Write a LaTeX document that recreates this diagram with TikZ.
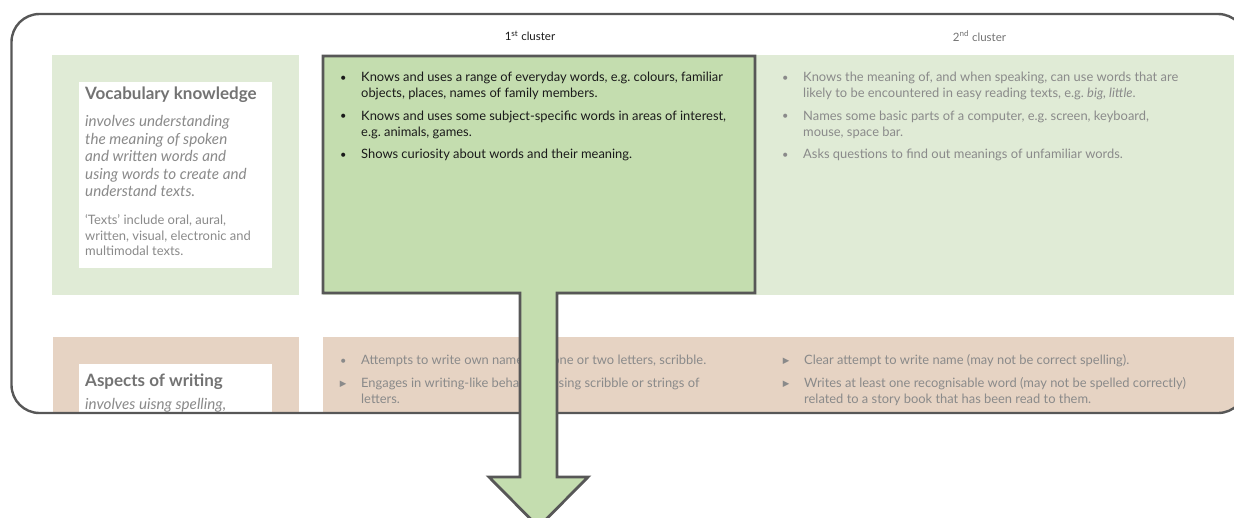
\documentclass[tikz,border=0pt]{standalone}
\usepackage{fontspec}
\setmainfont{Lato}
\newfontfamily\symfont{DejaVu Sans}

\definecolor{framegray}{HTML}{575757}
\definecolor{lgreen}{HTML}{E0EBD6}
\definecolor{dgreen}{HTML}{C4DDAF}
\definecolor{pinkbg}{HTML}{E6D3C3}
\definecolor{txtgray}{HTML}{8A8A8A}
\definecolor{titlegray}{HTML}{737373}
\definecolor{darktxt}{HTML}{1A1A1A}

% a block of text whose reference point is the baseline of its first line;
% \\ stays a plain line break so hanging indents carry over
\newcommand\textblock[1]{\vtop{\hsize=470pt\rightskip=0pt plus 1fil\relax
  \frenchspacing\parindent=0pt\parskip=6.5pt\relax #1\par}}
% one list entry: marker hanging left of the text, later lines aligned with the text
\newcommand\bitem[2]{\par\noindent\hangindent=18pt\hangafter=1
  \makebox[18pt][l]{\makebox[0pt][c]{#1}}#2}
\newcommand\dotmark{\raisebox{0.5pt}{\fontsize{11}{11}\selectfont •}}
\newcommand\trimark{\raisebox{0.8pt}{\symfont\fontsize{8.5}{8.5}\selectfont ▶}}

\tikzset{
  framestyle/.style={draw=framegray, line width=2.4pt, rounded corners=28pt},
  arrowbox/.style={draw=framegray, fill=dgreen, line width=2.8pt, line join=miter},
  head/.style={inner sep=0pt, font=\fontsize{11.5}{13}\selectfont},
  listtext/.style={anchor=base west, inner sep=0pt,
    font=\fontsize{12.9}{16}\selectfont},
  ttl/.style={anchor=base west, inner sep=0pt, text=titlegray,
    font=\fontsize{17}{20}\selectfont\bfseries},
  ittext/.style={anchor=base west, inner sep=0pt, text=txtgray,
    font=\fontsize{15.2}{17.5}\selectfont\itshape},
  notetext/.style={anchor=base west, inner sep=0pt, text=txtgray,
    font=\fontsize{12.95}{15.7}\selectfont}
}

\begin{document}
\begin{tikzpicture}[x=1pt,y=-1pt]
\useasboundingbox (0,0) rectangle (1234,517);
\clip (0,0) rectangle (1234,517);

% first row: light green bands and the white label card
\fill[lgreen] (52,55) rectangle (299,295);
\fill[lgreen] (323,55) rectangle (1240,295);
\fill[white] (79,82) rectangle (272,268);

% second row: pink bands, cut off by the rounded frame
\begin{scope}
  \clip[rounded corners=28pt] (11.5,14) rectangle (1246,413);
  \fill[pinkbg] (53,337) rectangle (299,420);
  \fill[pinkbg] (323,337) rectangle (1240,420);
  \fill[white] (79,364) rectangle (272,420);
  \node[ttl] (awt) at (85,386) {Aspects of writing};
  \node[ittext] (awd) at (85,409.5) {involves uisng spelling,};
\end{scope}

% outer rounded frame
\draw[framestyle] (11.5,14) rectangle (1246,413);

% column headings
\node[head, text=darktxt] (c1) at (530,36) {1\textsuperscript{st} cluster};
\node[head, text=titlegray] (c2) at (979.5,36) {2\textsuperscript{nd} cluster};

% label card of the first row
\node[ttl] (vkt) at (85,99) {Vocabulary knowledge};
\node[ittext] (vkd) at (85,126.5) {\textblock{involves understanding\\the meaning of spoken\\and written words and\\using words to create and\\understand texts.}};
\node[notetext] (vkn) at (85,224.5) {\textblock{‘Texts’ include oral, aural,\\written, visual, electronic and\\multimodal texts.}};

% second row, first cluster (partly covered by the arrow)
\node[listtext, text=txtgray] (w1) at (343,364.5) {\textblock{%
  \bitem{\dotmark}{Attempts to write own name, e.g. one or two letters, scribble.}
  \bitem{\trimark}{Engages in writing-like behaviour using scribble or strings of\\letters.}}};

% second row, second cluster
\node[listtext, text=txtgray] (w2) at (786,364.5) {\textblock{%
  \bitem{\trimark}{Clear attempt to write name (may not be correct spelling).}
  \bitem{\trimark}{Writes at least one recognisable word (may not be spelled correctly)\\related to a story book that has been read to them.}}};

% first row, second cluster
\node[listtext, text=txtgray] (v2) at (785,81.5) {\textblock{%
  \bitem{\dotmark}{Knows the meaning of, and when speaking, can use words that are\\likely to be encountered in easy reading texts, e.g. \textit{big, little}.}
  \bitem{\dotmark}{Names some basic parts of a computer, e.g. screen, keyboard,\\mouse, space bar.}
  \bitem{\dotmark}{Asks questions to find out meanings of unfamiliar words.}}};

% highlighted first cluster with its downward arrow
\draw[arrowbox] (323,56) -- (755,56) -- (755,293) -- (557,293) -- (557,477)
  -- (588,477) -- (538.5,527) -- (489,477) -- (520,477) -- (520,293)
  -- (323,293) -- cycle;

\node[listtext, text=darktxt] (v1) at (343,81.5) {\textblock{%
  \bitem{\dotmark}{Knows and uses a range of everyday words, e.g. colours, familiar\\objects, places, names of family members.}
  \bitem{\dotmark}{Knows and uses some subject-specific words in areas of interest,\\e.g. animals, games.}
  \bitem{\dotmark}{Shows curiosity about words and their meaning.}}};
\end{tikzpicture}
\end{document}
